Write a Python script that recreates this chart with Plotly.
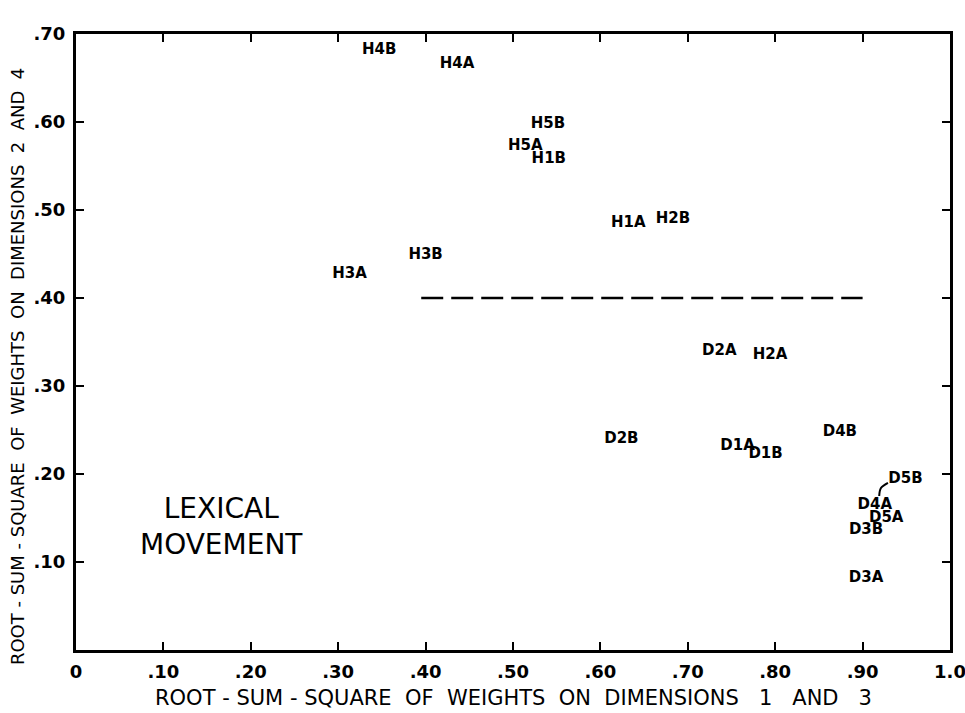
import plotly.graph_objects as go

# Data
labels = ["H4B", "H4A", "H5B", "H5A", "H1B", "H3A", "H3B", "H1A", "H2B",
          "D2A", "H2A", "D2B", "D1A", "D1B", "D4B", "D5B", "D4A", "D5A", "D3B", "D3A"]
x_vals = [0.347, 0.436, 0.540, 0.514, 0.541, 0.313, 0.400, 0.632, 0.683,
          0.736, 0.794, 0.624, 0.757, 0.789, 0.874, 0.949, 0.914, 0.927, 0.904, 0.904]
y_vals = [0.681, 0.666, 0.597, 0.573, 0.558, 0.427, 0.449, 0.485, 0.489,
          0.339, 0.335, 0.239, 0.232, 0.222, 0.247, 0.194, 0.165, 0.150, 0.136, 0.082]

# dashed separator
sep_x = [0.395, 0.900]
sep_y = [0.40, 0.40]

# leader line from D5B label to its point
lead_x = [0.929, 0.921, 0.919]
lead_y = [0.190, 0.184, 0.175]

x_ticks = [0, 0.1, 0.2, 0.3, 0.4, 0.5, 0.6, 0.7, 0.8, 0.9, 1.0]
x_ticktext = ["0", ".10", ".20", ".30", ".40", ".50", ".60", ".70", ".80", ".90", "1.0"]
y_ticks = [0, 0.1, 0.2, 0.3, 0.4, 0.5, 0.6, 0.7]
y_ticktext = ["", ".10", ".20", ".30", ".40", ".50", ".60", ".70"]

FONT = "DejaVu Sans"

fig = go.Figure()
fig.add_trace(go.Scatter(x=sep_x, y=sep_y, mode="lines",
                         line=dict(color="black", width=2.5, dash="22px,8px"),
                         hoverinfo="skip", showlegend=False))
fig.add_trace(go.Scatter(x=lead_x, y=lead_y, mode="lines",
                         line=dict(color="black", width=2, shape="spline"),
                         hoverinfo="skip", showlegend=False))
fig.add_trace(go.Scatter(x=x_vals, y=y_vals, mode="text", text=labels,
                         textposition="middle center",
                         textfont=dict(family=FONT, size=15, color="black", weight="bold"),
                         showlegend=False))

axis_common = dict(showline=True, linecolor="black", linewidth=3, mirror="ticks",
                   ticks="inside", ticklen=8, tickwidth=2, tickcolor="black",
                   showgrid=False, zeroline=False, automargin=False,
                   ticklabeloverflow="allow",
                   tickfont=dict(family=FONT, size=18, color="black", weight="bold"))

fig.update_xaxes(range=[0, 1.0], tickmode="array", tickvals=x_ticks, ticktext=x_ticktext,
                 ticklabelstandoff=3, **axis_common)
fig.update_yaxes(range=[0, 0.70], tickmode="array", tickvals=y_ticks, ticktext=y_ticktext,
                 ticklabelstandoff=4, **axis_common)

fig.add_annotation(x=0.167, y=0.140, xref="x", yref="y", showarrow=False,
                   text="LEXICAL<br>MOVEMENT",
                   font=dict(family=FONT, size=28, color="black"))

fig.add_annotation(x=0.5, y=-0.078, xref="paper", yref="paper", showarrow=False,
                   xanchor="center", yanchor="middle",
                   text="ROOT - SUM - SQUARE  OF  WEIGHTS  ON  DIMENSIONS   1   AND   3",
                   font=dict(family=FONT, size=21, color="black"))
fig.add_annotation(x=-0.067, y=0.46, xref="paper", yref="paper", showarrow=False,
                   xanchor="center", yanchor="middle", textangle=-90,
                   text="ROOT - SUM - SQUARE  OF  WEIGHTS  ON  DIMENSIONS  2  AND  4",
                   font=dict(family=FONT, size=18, color="black"))

fig.update_layout(width=965, height=713, margin=dict(l=76, r=15, t=34, b=63),
                  paper_bgcolor="white", plot_bgcolor="white")

fig.write_html("out.html")
